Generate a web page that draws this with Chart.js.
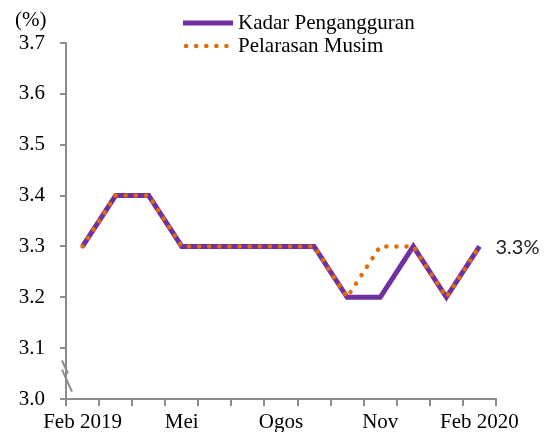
<!DOCTYPE html>
<html>
<head>
<meta charset="utf-8">
<script src="https://cdn.jsdelivr.net/npm/chart.js@4/dist/chart.umd.min.js"></script>
<style>
html,body{margin:0;padding:0;background:#fff;}
#wrap{position:relative;width:551px;height:432px;}
</style>
</head>
<body>
<div id="wrap"><canvas id="c" width="551" height="432"></canvas></div>
<script>
const categories = ['Feb 2019','Mac','Apr','Mei','Jun','Jul','Ogos','Sep','Okt','Nov','Dis','Jan','Feb 2020'];
const shownTickLabels = ['Feb 2019','Mei','Ogos','Nov','Feb 2020'];
const unemploymentRate = [3.3,3.4,3.4,3.3,3.3,3.3,3.3,3.3,3.2,3.2,3.3,3.2,3.3];
const seasonallyAdjusted = [3.3,3.4,3.4,3.3,3.3,3.3,3.3,3.3,3.2,3.3,3.3,3.2,3.3];
const seriesLabels = ['Kadar Pengangguran','Pelarasan Musim'];
const yTicks = [3.0,3.1,3.2,3.3,3.4,3.5,3.6,3.7];
const unitLabel = '(%)';
const endLabel = '3.3%';

const PURPLE = '#7030A0';
const ORANGE = '#E36C09';
const AXIS = '#8c8c8c';
const SERIF = '"Liberation Serif","Times New Roman",serif';

const extras = {
  id: 'extras',
  afterDraw(chart) {
    const ctx = chart.ctx;
    const x = chart.scales.x, y = chart.scales.y;
    ctx.save();
    // unit label
    ctx.fillStyle = '#000';
    ctx.font = '21px ' + SERIF;
    ctx.textAlign = 'left';
    ctx.textBaseline = 'middle';
    ctx.fillText(unitLabel, 15, 20);
    // axis break marks
    ctx.strokeStyle = AXIS;
    ctx.lineWidth = 2;
    ctx.lineCap = 'butt';
    const ax = x.left;
    const yA = y.getPixelForValue(3.06), yB = y.getPixelForValue(3.04);
    ctx.beginPath();
    ctx.moveTo(ax - 4, yA - 8); ctx.lineTo(ax + 2, yA + 5);
    ctx.moveTo(ax - 4, yB - 9); ctx.lineTo(ax + 6, yB + 13);
    ctx.stroke();
    // end label
    const meta = chart.getDatasetMeta(0);
    const last = meta.data[meta.data.length - 1];
    ctx.fillStyle = '#222';
    ctx.font = '20px Lato, "Open Sans", sans-serif';
    ctx.textAlign = 'left';
    ctx.textBaseline = 'middle';
    ctx.fillText(endLabel, last.x + 16, last.y + 1);
    // legend
    const lx0 = 183, lx1 = 233;
    ctx.lineCap = 'butt';
    ctx.strokeStyle = PURPLE;
    ctx.lineWidth = 5;
    ctx.beginPath(); ctx.moveTo(lx0, 23); ctx.lineTo(lx1, 23); ctx.stroke();
    ctx.strokeStyle = ORANGE;
    ctx.lineWidth = 4.5;
    ctx.lineCap = 'round';
    ctx.setLineDash([0.1, 10]);
    ctx.beginPath(); ctx.moveTo(lx0 + 3, 46); ctx.lineTo(lx1, 46); ctx.stroke();
    ctx.setLineDash([]);
    ctx.fillStyle = '#000';
    ctx.font = '21px ' + SERIF;
    ctx.fillText(seriesLabels[0], 238, 23);
    ctx.fillText(seriesLabels[1], 238, 46);
    ctx.restore();
  }
};

new Chart(document.getElementById('c'), {
  type: 'line',
  data: {
    labels: categories,
    datasets: [
      {
        label: seriesLabels[0],
        data: unemploymentRate,
        borderColor: PURPLE,
        borderWidth: 5,
        pointRadius: 0,
        tension: 0,
        order: 1
      },
      {
        label: seriesLabels[1],
        data: seasonallyAdjusted,
        borderColor: ORANGE,
        borderWidth: 4.5,
        borderDash: [0.1, 10],
        borderCapStyle: 'round',
        pointRadius: 0,
        tension: 0,
        order: 0
      }
    ]
  },
  options: {
    responsive: false,
    animation: false,
    devicePixelRatio: 1,
    layout: { padding: { top: 43, right: 55, left: 0, bottom: 0 } },
    plugins: { legend: { display: false }, tooltip: { enabled: false } },
    scales: {
      x: {
        offset: true,
        grid: { offset: true, drawOnChartArea: false, color: AXIS, lineWidth: 2, tickLength: 7 },
        border: { color: AXIS, width: 2 },
        ticks: {
          autoSkip: false, maxRotation: 0, padding: 4,
          color: '#000', font: { family: SERIF, size: 21 },
          callback: function(v, i) { const l = categories[i]; return shownTickLabels.includes(l) ? l : ''; }
        },
        afterFit(s) { s.height = 33; }
      },
      y: {
        min: 3.0, max: 3.7,
        afterBuildTicks(s) { s.ticks = yTicks.map(v => ({ value: v })); },
        grid: { drawOnChartArea: false, color: AXIS, lineWidth: 2, tickLength: 6 },
        border: { color: AXIS, width: 2 },
        ticks: {
          padding: 15, color: '#000', font: { family: SERIF, size: 21 },
          callback: v => Number(v).toFixed(1)
        },
        afterFit(s) { s.width = 66; }
      }
    }
  },
  plugins: [extras]
});
</script>
</body>
</html>
